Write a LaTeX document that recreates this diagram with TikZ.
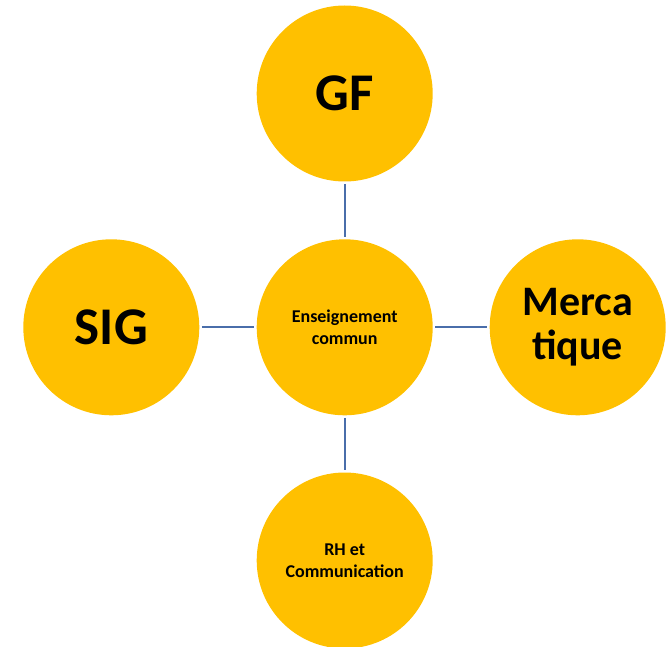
\documentclass[tikz,border=0pt]{standalone}
\usepackage{fontspec}
\setmainfont{Carlito}
\definecolor{gold}{HTML}{FFC000}
\definecolor{linkblue}{HTML}{4A6EAA}
\begin{document}
\begin{tikzpicture}
  [x=1pt,y=-1pt,
   disc/.style={circle,fill=gold,minimum size=176pt,inner sep=0pt,outer sep=0pt,align=center},
   bigtext/.style={font=\bfseries\fontsize{53}{60}\selectfont},
   midtext/.style={font=\bfseries\fontsize{42}{44}\selectfont},
   smalltext/.style={font=\bfseries\fontsize{18}{22}\selectfont},
   link/.style={draw=linkblue,line width=2.2pt,shorten <=2.5pt,shorten >=2.5pt}]
\useasboundingbox (0,0) rectangle (666,647); % page size of the reference
\node at (344.7,327.3) (ens)   [disc, smalltext] {Enseignement\\commun};
\node at (344.7,93.5)  (gf)    [disc, bigtext] {GF};
\node at (111.3,327.3) (sig)   [disc, bigtext] {SIG};
\node at (577.7,327.3) (merca) [disc, midtext] {Merca\\tique};
\node at (344.7,560.5) (rh)    [disc, smalltext] {RH et\\Communication};
\draw [link] (gf)  -- (ens);
\draw [link] (sig) -- (ens);
\draw [link] (ens) -- (merca);
\draw [link] (ens) -- (rh);
\end{tikzpicture}
\end{document}
